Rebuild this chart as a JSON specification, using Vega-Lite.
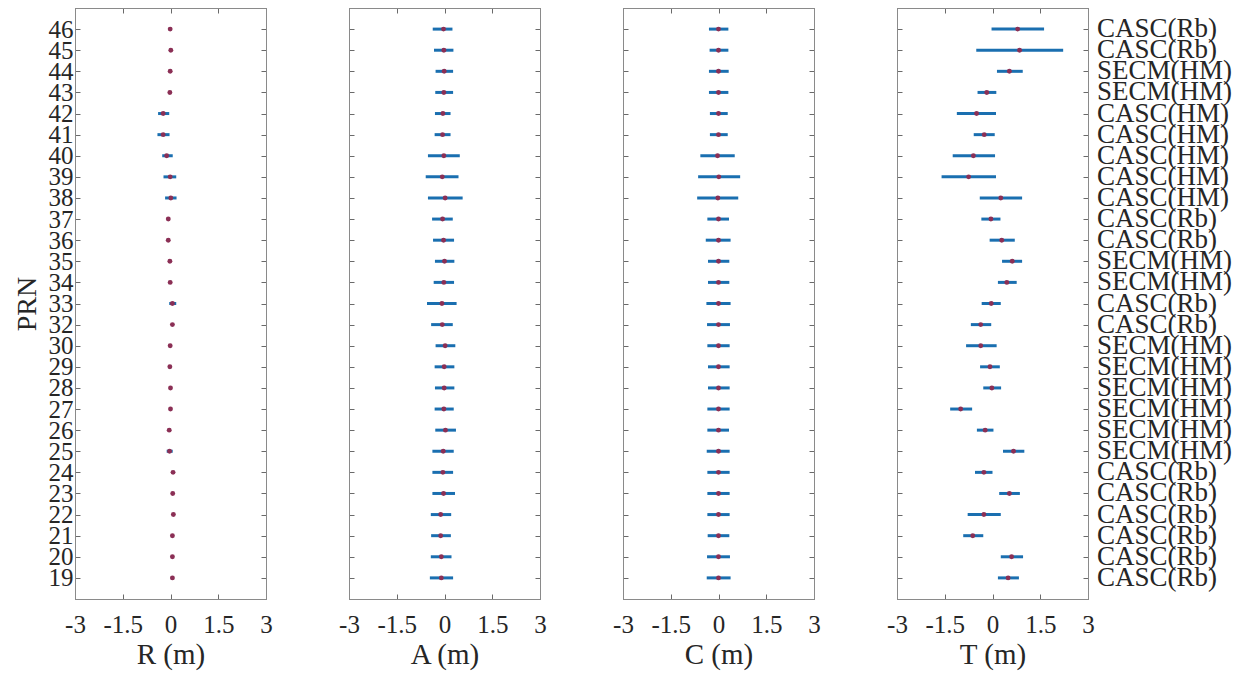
{
  "$schema": "https://vega.github.io/schema/vega-lite/v6.json",
  "padding": {"left": 12, "top": 7, "right": 2, "bottom": 2},
  "bounds": "flush",
  "spacing": 83,
  "config": {
    "font": "Liberation Serif",
    "view": {"stroke": "#8a8a8a", "strokeWidth": 1},
    "axis": {
      "domainColor": "#8a8a8a",
      "tickColor": "#6a6a6a",
      "tickSize": -5,
      "labelFont": "Liberation Serif",
      "labelFontSize": 25,
      "labelColor": "#262626",
      "titleFont": "Liberation Serif",
      "titleFontSize": 29,
      "titleFontWeight": "normal",
      "titleColor": "#262626",
      "grid": false,
      "labelOverlap": false,
      "labelFlush": false
    }
  },
  "data": {
    "values": [
      {"prn": 46, "type": "CASC(Rb)", "R": -0.01, "R_lo": -0.05, "R_hi": 0.03, "A": -0.03, "A_lo": -0.37, "A_hi": 0.25, "C": 0.0, "C_lo": -0.30, "C_hi": 0.31, "T": 0.79, "T_lo": -0.03, "T_hi": 1.62},
      {"prn": 45, "type": "CASC(Rb)", "R": 0.01, "R_lo": -0.03, "R_hi": 0.05, "A": -0.02, "A_lo": -0.33, "A_hi": 0.28, "C": 0.0, "C_lo": -0.28, "C_hi": 0.31, "T": 0.85, "T_lo": -0.51, "T_hi": 2.22},
      {"prn": 44, "type": "SECM(HM)", "R": -0.01, "R_lo": -0.05, "R_hi": 0.03, "A": -0.01, "A_lo": -0.28, "A_hi": 0.27, "C": 0.0, "C_lo": -0.30, "C_hi": 0.32, "T": 0.53, "T_lo": 0.14, "T_hi": 0.95},
      {"prn": 43, "type": "SECM(HM)", "R": -0.02, "R_lo": -0.06, "R_hi": 0.02, "A": -0.02, "A_lo": -0.29, "A_hi": 0.27, "C": 0.0, "C_lo": -0.30, "C_hi": 0.31, "T": -0.18, "T_lo": -0.47, "T_hi": 0.12},
      {"prn": 42, "type": "CASC(HM)", "R": -0.23, "R_lo": -0.39, "R_hi": -0.04, "A": -0.05, "A_lo": -0.30, "A_hi": 0.19, "C": 0.0, "C_lo": -0.27, "C_hi": 0.29, "T": -0.50, "T_lo": -1.12, "T_hi": 0.11},
      {"prn": 41, "type": "CASC(HM)", "R": -0.23, "R_lo": -0.41, "R_hi": -0.03, "A": -0.06, "A_lo": -0.31, "A_hi": 0.19, "C": 0.0, "C_lo": -0.27, "C_hi": 0.29, "T": -0.26, "T_lo": -0.59, "T_hi": 0.07},
      {"prn": 40, "type": "CASC(HM)", "R": -0.12, "R_lo": -0.26, "R_hi": 0.07, "A": -0.02, "A_lo": -0.52, "A_hi": 0.48, "C": -0.03, "C_lo": -0.57, "C_hi": 0.51, "T": -0.60, "T_lo": -1.25, "T_hi": 0.08},
      {"prn": 39, "type": "CASC(HM)", "R": -0.01, "R_lo": -0.22, "R_hi": 0.18, "A": -0.07, "A_lo": -0.59, "A_hi": 0.44, "C": 0.01, "C_lo": -0.64, "C_hi": 0.68, "T": -0.75, "T_lo": -1.60, "T_hi": 0.11},
      {"prn": 38, "type": "CASC(HM)", "R": 0.01, "R_lo": -0.17, "R_hi": 0.19, "A": 0.02, "A_lo": -0.52, "A_hi": 0.57, "C": -0.02, "C_lo": -0.67, "C_hi": 0.62, "T": 0.26, "T_lo": -0.40, "T_hi": 0.93},
      {"prn": 37, "type": "CASC(Rb)", "R": -0.07, "R_lo": -0.11, "R_hi": -0.03, "A": -0.06, "A_lo": -0.39, "A_hi": 0.26, "C": 0.0, "C_lo": -0.35, "C_hi": 0.33, "T": -0.05, "T_lo": -0.35, "T_hi": 0.25},
      {"prn": 36, "type": "CASC(Rb)", "R": -0.07, "R_lo": -0.11, "R_hi": -0.03, "A": -0.03, "A_lo": -0.36, "A_hi": 0.30, "C": 0.0, "C_lo": -0.40, "C_hi": 0.38, "T": 0.29, "T_lo": -0.09, "T_hi": 0.70},
      {"prn": 35, "type": "SECM(HM)", "R": -0.02, "R_lo": -0.06, "R_hi": 0.02, "A": 0.0, "A_lo": -0.30, "A_hi": 0.31, "C": 0.0, "C_lo": -0.33, "C_hi": 0.34, "T": 0.62, "T_lo": 0.30, "T_hi": 0.93},
      {"prn": 34, "type": "SECM(HM)", "R": -0.01, "R_lo": -0.05, "R_hi": 0.03, "A": -0.02, "A_lo": -0.34, "A_hi": 0.30, "C": 0.0, "C_lo": -0.33, "C_hi": 0.34, "T": 0.45, "T_lo": 0.17, "T_hi": 0.76},
      {"prn": 33, "type": "CASC(Rb)", "R": 0.06, "R_lo": -0.04, "R_hi": 0.18, "A": -0.08, "A_lo": -0.55, "A_hi": 0.38, "C": 0.0, "C_lo": -0.38, "C_hi": 0.38, "T": -0.04, "T_lo": -0.34, "T_hi": 0.26},
      {"prn": 32, "type": "CASC(Rb)", "R": 0.06, "R_lo": 0.02, "R_hi": 0.10, "A": -0.07, "A_lo": -0.42, "A_hi": 0.26, "C": 0.0, "C_lo": -0.36, "C_hi": 0.36, "T": -0.37, "T_lo": -0.68, "T_hi": -0.04},
      {"prn": 30, "type": "SECM(HM)", "R": -0.01, "R_lo": -0.05, "R_hi": 0.03, "A": 0.02, "A_lo": -0.28, "A_hi": 0.34, "C": 0.0, "C_lo": -0.35, "C_hi": 0.35, "T": -0.37, "T_lo": -0.83, "T_hi": 0.13},
      {"prn": 29, "type": "SECM(HM)", "R": -0.02, "R_lo": -0.06, "R_hi": 0.02, "A": -0.01, "A_lo": -0.31, "A_hi": 0.31, "C": 0.0, "C_lo": -0.33, "C_hi": 0.35, "T": -0.08, "T_lo": -0.39, "T_hi": 0.23},
      {"prn": 28, "type": "SECM(HM)", "R": 0.0, "R_lo": -0.04, "R_hi": 0.04, "A": -0.01, "A_lo": -0.30, "A_hi": 0.31, "C": 0.0, "C_lo": -0.33, "C_hi": 0.35, "T": -0.02, "T_lo": -0.29, "T_hi": 0.27},
      {"prn": 27, "type": "SECM(HM)", "R": 0.0, "R_lo": -0.04, "R_hi": 0.04, "A": -0.02, "A_lo": -0.31, "A_hi": 0.29, "C": 0.0, "C_lo": -0.35, "C_hi": 0.35, "T": -1.00, "T_lo": -1.33, "T_hi": -0.64},
      {"prn": 26, "type": "SECM(HM)", "R": -0.04, "R_lo": -0.08, "R_hi": 0.0, "A": 0.03, "A_lo": -0.29, "A_hi": 0.36, "C": 0.0, "C_lo": -0.35, "C_hi": 0.33, "T": -0.23, "T_lo": -0.49, "T_hi": 0.03},
      {"prn": 25, "type": "SECM(HM)", "R": -0.03, "R_lo": -0.12, "R_hi": 0.07, "A": -0.04, "A_lo": -0.38, "A_hi": 0.29, "C": 0.0, "C_lo": -0.37, "C_hi": 0.35, "T": 0.66, "T_lo": 0.33, "T_hi": 1.00},
      {"prn": 24, "type": "CASC(Rb)", "R": 0.08, "R_lo": 0.04, "R_hi": 0.12, "A": -0.05, "A_lo": -0.38, "A_hi": 0.27, "C": 0.0, "C_lo": -0.35, "C_hi": 0.35, "T": -0.27, "T_lo": -0.55, "T_hi": 0.0},
      {"prn": 23, "type": "CASC(Rb)", "R": 0.07, "R_lo": 0.03, "R_hi": 0.11, "A": -0.03, "A_lo": -0.38, "A_hi": 0.33, "C": 0.0, "C_lo": -0.35, "C_hi": 0.35, "T": 0.53, "T_lo": 0.21, "T_hi": 0.86},
      {"prn": 22, "type": "CASC(Rb)", "R": 0.09, "R_lo": 0.05, "R_hi": 0.13, "A": -0.12, "A_lo": -0.43, "A_hi": 0.21, "C": 0.0, "C_lo": -0.35, "C_hi": 0.35, "T": -0.27, "T_lo": -0.78, "T_hi": 0.26},
      {"prn": 21, "type": "CASC(Rb)", "R": 0.06, "R_lo": 0.02, "R_hi": 0.10, "A": -0.12, "A_lo": -0.42, "A_hi": 0.20, "C": 0.0, "C_lo": -0.34, "C_hi": 0.34, "T": -0.62, "T_lo": -0.92, "T_hi": -0.29},
      {"prn": 20, "type": "CASC(Rb)", "R": 0.06, "R_lo": 0.02, "R_hi": 0.10, "A": -0.10, "A_lo": -0.43, "A_hi": 0.22, "C": 0.0, "C_lo": -0.36, "C_hi": 0.36, "T": 0.60, "T_lo": 0.26, "T_hi": 0.96},
      {"prn": 19, "type": "CASC(Rb)", "R": 0.06, "R_lo": 0.02, "R_hi": 0.10, "A": -0.10, "A_lo": -0.46, "A_hi": 0.27, "C": 0.0, "C_lo": -0.37, "C_hi": 0.38, "T": 0.49, "T_lo": 0.17, "T_hi": 0.83}
    ]
  },
  "hconcat": [
    {
      "width": 191, "height": 591,
      "resolve": {"axis": {"x": "independent", "y": "independent"}},
      "layer": [
        {
          "mark": {"type": "rule", "strokeWidth": 3, "color": "#1a6fb0"},
          "encoding": {
            "y": {"field": "prn", "type": "ordinal", "sort": "descending", "scale": {"type": "point", "padding": 1}, "axis": {"orient": "left", "title": "PRN", "titleFontSize": 28, "labelPadding": 7, "titlePadding": 7}},
            "x": {"field": "R_lo", "type": "quantitative", "scale": {"domain": [-3, 3], "nice": false, "zero": false}, "axis": {"orient": "bottom", "title": "R (m)", "values": [-3, -1.5, 0, 1.5, 3], "labelExpr": "toString(datum.value)", "labelPadding": 18, "titlePadding": 3}},
            "x2": {"field": "R_hi"}
          }
        },
        {
          "mark": {"type": "circle", "size": 24, "color": "#8b2f55", "opacity": 1},
          "encoding": {
            "y": {"field": "prn", "type": "ordinal", "sort": "descending", "axis": {"orient": "right", "labels": false, "title": null}},
            "x": {"field": "R", "type": "quantitative", "axis": {"orient": "top", "labels": false, "title": null, "values": [-3, -1.5, 0, 1.5, 3]}}
          }
        }
      ]
    },
    {
      "width": 191, "height": 591,
      "resolve": {"axis": {"x": "independent", "y": "independent"}},
      "layer": [
        {
          "mark": {"type": "rule", "strokeWidth": 3, "color": "#1a6fb0"},
          "encoding": {
            "y": {"field": "prn", "type": "ordinal", "sort": "descending", "scale": {"type": "point", "padding": 1}, "axis": {"orient": "left", "labels": false, "title": null}},
            "x": {"field": "A_lo", "type": "quantitative", "scale": {"domain": [-3, 3], "nice": false, "zero": false}, "axis": {"orient": "bottom", "title": "A (m)", "values": [-3, -1.5, 0, 1.5, 3], "labelExpr": "toString(datum.value)", "labelPadding": 18, "titlePadding": 3}},
            "x2": {"field": "A_hi"}
          }
        },
        {
          "mark": {"type": "circle", "size": 24, "color": "#8b2f55", "opacity": 1},
          "encoding": {
            "y": {"field": "prn", "type": "ordinal", "sort": "descending", "axis": {"orient": "right", "labels": false, "title": null}},
            "x": {"field": "A", "type": "quantitative", "axis": {"orient": "top", "labels": false, "title": null, "values": [-3, -1.5, 0, 1.5, 3]}}
          }
        }
      ]
    },
    {
      "width": 191, "height": 591,
      "resolve": {"axis": {"x": "independent", "y": "independent"}},
      "layer": [
        {
          "mark": {"type": "rule", "strokeWidth": 3, "color": "#1a6fb0"},
          "encoding": {
            "y": {"field": "prn", "type": "ordinal", "sort": "descending", "scale": {"type": "point", "padding": 1}, "axis": {"orient": "left", "labels": false, "title": null}},
            "x": {"field": "C_lo", "type": "quantitative", "scale": {"domain": [-3, 3], "nice": false, "zero": false}, "axis": {"orient": "bottom", "title": "C (m)", "values": [-3, -1.5, 0, 1.5, 3], "labelExpr": "toString(datum.value)", "labelPadding": 18, "titlePadding": 3}},
            "x2": {"field": "C_hi"}
          }
        },
        {
          "mark": {"type": "circle", "size": 24, "color": "#8b2f55", "opacity": 1},
          "encoding": {
            "y": {"field": "prn", "type": "ordinal", "sort": "descending", "axis": {"orient": "right", "labels": false, "title": null}},
            "x": {"field": "C", "type": "quantitative", "axis": {"orient": "top", "labels": false, "title": null, "values": [-3, -1.5, 0, 1.5, 3]}}
          }
        }
      ]
    },
    {
      "width": 191, "height": 591,
      "resolve": {"axis": {"x": "independent", "y": "independent"}},
      "layer": [
        {
          "mark": {"type": "rule", "strokeWidth": 3, "color": "#1a6fb0"},
          "encoding": {
            "y": {"field": "prn", "type": "ordinal", "sort": "descending", "scale": {"type": "point", "padding": 1}, "axis": {"orient": "left", "labels": false, "title": null}},
            "x": {"field": "T_lo", "type": "quantitative", "scale": {"domain": [-3, 3], "nice": false, "zero": false}, "axis": {"orient": "bottom", "title": "T (m)", "values": [-3, -1.5, 0, 1.5, 3], "labelExpr": "toString(datum.value)", "labelPadding": 18, "titlePadding": 3}},
            "x2": {"field": "T_hi"}
          }
        },
        {
          "mark": {"type": "circle", "size": 24, "color": "#8b2f55", "opacity": 1},
          "encoding": {
            "y": {"field": "prn", "type": "ordinal", "sort": "descending", "axis": {"orient": "right", "labels": false, "title": null}},
            "x": {"field": "T", "type": "quantitative", "axis": {"orient": "top", "labels": false, "title": null, "values": [-3, -1.5, 0, 1.5, 3]}}
          }
        },
        {
          "mark": {"type": "text", "align": "left", "baseline": "middle", "dx": 9, "font": "Liberation Serif", "fontSize": 27, "color": "#262626"},
          "encoding": {
            "y": {"field": "prn", "type": "ordinal", "sort": "descending", "axis": null},
            "x": {"datum": 3, "type": "quantitative", "axis": null},
            "text": {"field": "type"}
          }
        }
      ]
    }
  ]
}
